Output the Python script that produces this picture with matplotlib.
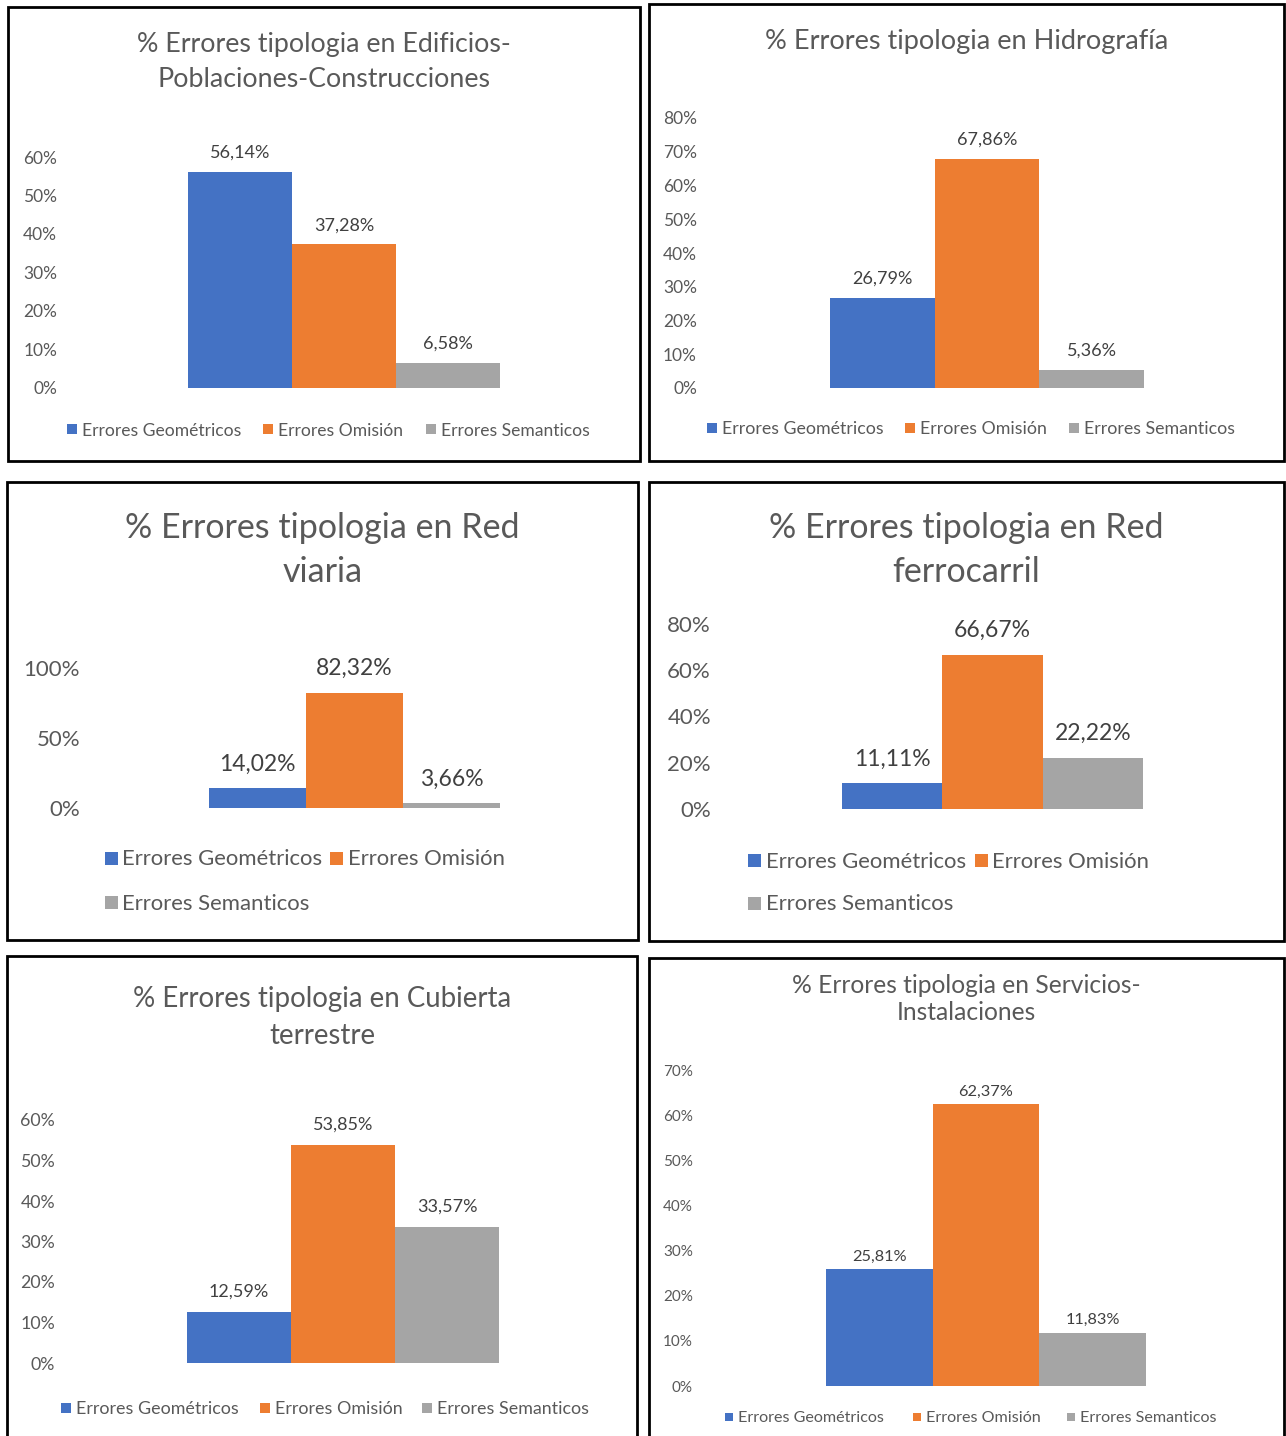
import matplotlib.pyplot as plt
from matplotlib.patches import Rectangle

plt.rcParams['font.family'] = ['Lato', 'DejaVu Sans']

W, H = 1286, 1436

series = ["Errores Geométricos", "Errores Omisión", "Errores Semanticos"]
colors = ["#4472C4", "#ED7D31", "#A5A5A5"]

titles = [
    ["% Errores tipologia en Edificios-", "Poblaciones-Construcciones"],
    ["% Errores tipologia en Hidrografía"],
    ["% Errores tipologia en Red", "viaria"],
    ["% Errores tipologia en Red", "ferrocarril"],
    ["% Errores tipologia en Cubierta", "terrestre"],
    ["% Errores tipologia en Servicios-", "Instalaciones"],
]
edificios = [56.14, 37.28, 6.58]
hidrografia = [26.79, 67.86, 5.36]
red_viaria = [14.02, 82.32, 3.66]
ferrocarril = [11.11, 66.67, 22.22]
cubierta = [12.59, 53.85, 33.57]
servicios = [25.81, 62.37, 11.83]
values = [edificios, hidrografia, red_viaria, ferrocarril, cubierta, servicios]
y_max = [60, 80, 100, 80, 60, 70]
y_step = [10, 10, 50, 20, 10, 10]

# layout in pixels of the reference image
layout = [
    dict(box=(8, 7, 640, 461), bars=(188, 500), y0=388, ytop=157, lab=57,
         ty=[43, 78], tfs=19.3, tkfs=12.5, dfs=13, lfs=12.6, off=19, sq=10,
         leg=[(72, 429), (268, 429), (431, 429)]),
    dict(box=(649, 4, 1284, 461), bars=(830, 1144), y0=388, ytop=118, lab=697,
         ty=[40], tfs=19.5, tkfs=12.5, dfs=13, lfs=12.8, off=19, sq=10,
         leg=[(712, 428), (910, 428), (1074, 428)]),
    dict(box=(7, 482, 638, 940), bars=(209, 500), y0=808, ytop=668, lab=80,
         ty=[527, 571], tfs=24.5, tkfs=16, dfs=16.5, lfs=15.9, off=24, sq=13,
         leg=[(111, 858), (337, 858), (111, 902)]),
    dict(box=(649, 482, 1284, 941), bars=(842, 1143), y0=809, ytop=624, lab=711,
         ty=[527, 571], tfs=24.5, tkfs=16, dfs=16.5, lfs=15.9, off=24, sq=13,
         leg=[(754, 860), (981, 860), (754, 903)]),
    dict(box=(7, 956, 637, 1460), bars=(187, 499), y0=1363, ytop=1120, lab=55,
         ty=[997, 1034], tfs=19.9, tkfs=12.8, dfs=13, lfs=12.9, off=20, sq=10,
         leg=[(66, 1408), (265, 1408), (427, 1408)]),
    dict(box=(649, 958, 1284, 1460), bars=(826, 1146), y0=1386, ytop=1070, lab=693,
         ty=[984, 1011], tfs=17.7, tkfs=11, dfs=11.8, lfs=11.6, off=13, sq=8,
         leg=[(729, 1417), (917, 1417), (1071, 1417)]),
]

fig = plt.figure(figsize=(W / 100, H / 100), dpi=100)
fig.patch.set_facecolor('white')


def fx(px):
    return px / W


def fy(py):
    return 1 - py / H


TXT = '#595959'
DY = 1.5  # Lato centres a little high compared with Calibri

for i, lay in enumerate(layout):
    x0, y0b, x1, y1b = lay['box']
    fig.patches.append(Rectangle((fx(x0), fy(y1b)), fx(x1) - fx(x0), fy(y0b) - fy(y1b),
                                 transform=fig.transFigure, facecolor='white',
                                 edgecolor='black', lw=2, zorder=-1))
    cx = (x0 + x1) / 2
    for line, ty in zip(titles[i], lay['ty']):
        fig.text(fx(cx), fy(ty + DY), line, ha='center', va='center',
                 fontsize=lay['tfs'], color=TXT)

    bl, br = lay['bars']
    ax = fig.add_axes([fx(bl), fy(lay['y0']), fx(br) - fx(bl), fy(lay['ytop']) - fy(lay['y0'])])
    ax.set_zorder(1)
    ax.patch.set_alpha(0)
    for j, (v, c) in enumerate(zip(values[i], colors)):
        ax.bar(j, v, width=1.0, color=c, label=series[j])
        ax.annotate(f"{v:.2f}%".replace('.', ','), xy=(j, v),
                    xytext=(0, lay['off'] * 0.72), textcoords='offset points',
                    ha='center', va='center', fontsize=lay['dfs'], color='#404040')
    ax.set_xlim(-0.5, 2.5)
    ax.set_ylim(0, y_max[i])
    ticks = list(range(0, y_max[i] + 1, y_step[i]))
    ax.set_yticks(ticks)
    ax.set_yticklabels([f"{t}%" for t in ticks], fontsize=lay['tkfs'], color=TXT)
    ax.tick_params(axis='y', length=0, pad=(bl - lay['lab']) * 0.72)
    ax.set_xticks([])
    for s in ax.spines.values():
        s.set_visible(False)

    sq = lay['sq']
    for j, (lx, ly) in enumerate(lay['leg']):
        fig.patches.append(Rectangle((fx(lx - sq / 2), fy(ly + sq / 2)), sq / W, sq / H,
                                     transform=fig.transFigure, facecolor=colors[j],
                                     edgecolor='none', zorder=2))
        fig.text(fx(lx + sq / 2 + 5), fy(ly + DY), series[j], ha='left', va='center',
                 fontsize=lay['lfs'], color=TXT)

fig.savefig('out.png', dpi=100)
